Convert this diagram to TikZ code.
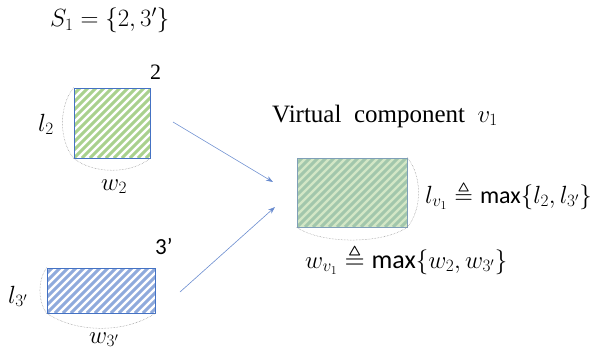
\documentclass[tikz,border=0pt]{standalone}
\usepackage{amsmath,amssymb}
\usepackage{fontspec}
\setmainfont{Liberation Serif}
\newfontfamily\labelfont{Carlito}
\usetikzlibrary{arrows.meta}
\definecolor{hatchgreen}{HTML}{A9D18E}
\definecolor{hatchblue}{HTML}{8FAADC}
\definecolor{boxblue}{HTML}{4472C4}
\definecolor{vbase}{HTML}{D3E7C6}
\definecolor{vline}{HTML}{A2C7AC}
\definecolor{vborder}{HTML}{7F9FB8}
\definecolor{arrowblue}{HTML}{6A8CCF}
\definecolor{bracegray}{HTML}{8C8C8C}
\tikzset{
  hatch/.style={path picture={
    \foreach \k in {-15,...,16}
      \draw[#1, line width=2.9pt]
        ([xshift=\k*8pt]path picture bounding box.south west) -- ++(200pt,200pt);
  }},
  comp/.style={draw=boxblue, line width=0.6pt, inner sep=0pt, fill=white},
  brace/.style={draw=bracegray, line width=0.5pt, densely dotted},
  link/.style={draw=arrowblue, line width=0.6pt, -{Stealth[length=7pt,width=5pt]}},
  txt/.style={inner sep=0pt, anchor=base west, font=\fontsize{24}{28}\selectfont},
  num/.style={inner sep=0pt, anchor=base west, font=\labelfont\fontsize{23}{26}\selectfont},
}
\begin{document}
\begin{tikzpicture}[x=1pt,y=-1pt]
\useasboundingbox (0,0) rectangle (606,356);

% set of components
\node[txt] (set) at (50,27) {$S_1=\{2,3'\}$};

% component 2
\node[comp, minimum width=76pt, minimum height=70pt, hatch=hatchgreen] (b2) at (112,123) {};
\node[txt, font=\fontsize{22}{25}\selectfont] (n2) at (150,79) {2};
\draw[brace] (b2.north west) .. controls +(-15,18) and +(-15,-18) .. (b2.south west);
\draw[brace] (b2.south west) .. controls +(20,16) and +(-20,16) .. (b2.south east);
\node[txt] (l2) at (38,131) {$l_2$};
\node[txt] (w2) at (101,190) {$w_2$};

% component 3'
\node[comp, minimum width=108pt, minimum height=45pt, hatch=hatchblue] (b3) at (101,290.5) {};
\node[num] (n3) at (155,254) {3’};
\draw[brace] (b3.north west) .. controls +(-9,12) and +(-9,-12) .. (b3.south west);
\draw[brace] (b3.south west) .. controls +(30,20) and +(-30,20) .. (b3.south east);
\node[txt] (l3) at (8,303) {$l_{3'}$};
\node[txt] (w3) at (89,343) {$w_{3'}$};

% virtual component
\node[draw=vborder, line width=0.6pt, inner sep=0pt, fill=vbase,
      minimum width=110pt, minimum height=69pt, hatch=vline] (v) at (352,192.5) {};
\draw[brace] (v.north east) .. controls +(15,18) and +(15,-18) .. (v.south east);
\draw[brace] (v.south west) .. controls +(25,17) and +(-25,17) .. (v.south east);
\node[txt, font=\fontsize{25}{28}\selectfont] (vt) at (272,122) {Virtual\ \ component\ \ $v_1$};
\node[txt] (lv) at (425,203) {$l_{v_1}\triangleq\text{\labelfont max}\{l_2,l_{3'}\}$};
\node[txt, font=\fontsize{26}{29}\selectfont] (wv) at (305,268) {$w_{v_1}\triangleq\text{\labelfont max}\{w_2,w_{3'}\}$};

% merging arrows
\coordinate (a1s) at (173,122);
\coordinate (a1e) at (273,182);
\coordinate (a2s) at (180,292);
\coordinate (a2e) at (275,207);
\draw[link] (a1s) -- (a1e);
\draw[link] (a2s) -- (a2e);
\end{tikzpicture}
\end{document}
